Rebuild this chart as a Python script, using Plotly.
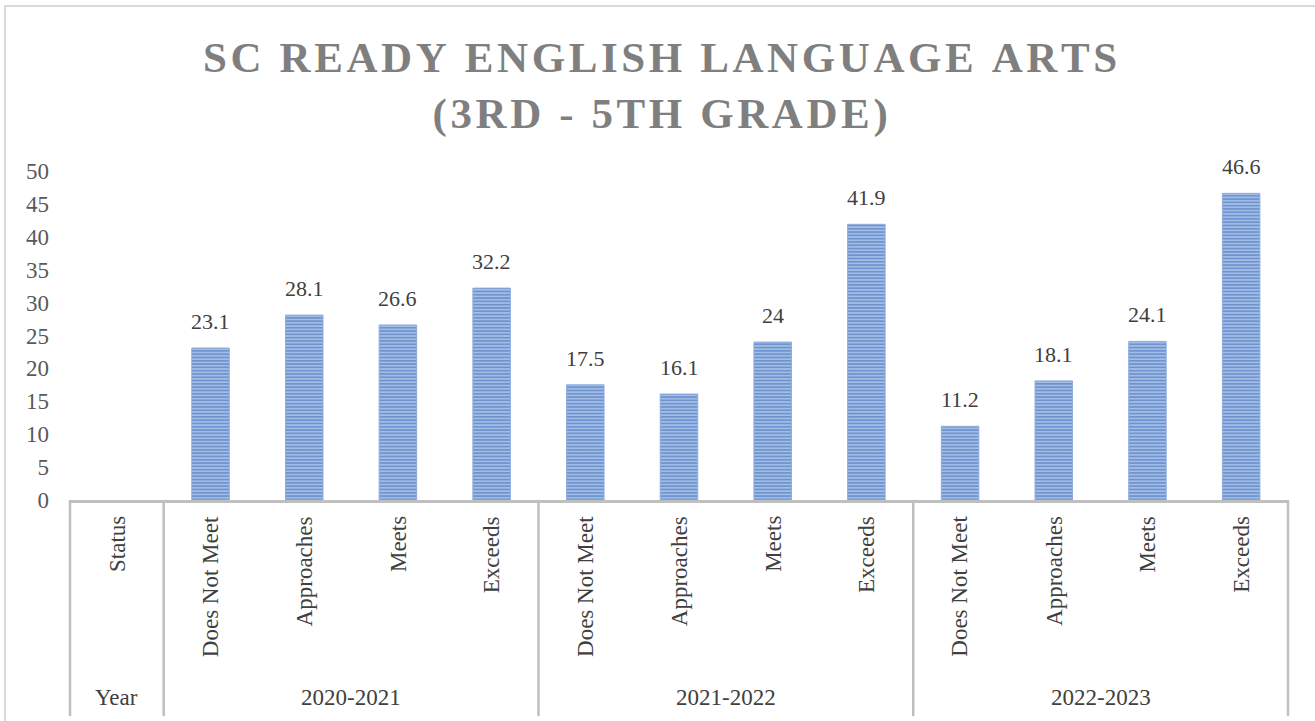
import plotly.graph_objects as go

# data
years = ['2020-2021', '2021-2022', '2022-2023']
statuses = ['Does Not Meet', 'Approaches', 'Meets', 'Exceeds']
values_2020 = [23.1, 28.1, 26.6, 32.2]
values_2021 = [17.5, 16.1, 24, 41.9]
values_2022 = [11.2, 18.1, 24.1, 46.6]
y_ticks = [0, 5, 10, 15, 20, 25, 30, 35, 40, 45, 50]

all_values = [values_2020, values_2021, values_2022]

# one slot per category, first slot is the "Status / Year" header column
cats = ['Status'] + [f'{y}|{s}' for y in years for s in statuses]
vals = [None] + [v for vs in all_values for v in vs]

font = 'Liberation Serif'
n = len(cats)

fig = go.Figure()
fig.add_trace(go.Bar(
    x=cats, y=vals, width=0.4,
    marker=dict(
        color='#AFC6EB',
        line=dict(color='#8FAADC', width=1),
        pattern=dict(shape='-', fgcolor='#2E62B4', bgcolor='#AFC6EB', size=3.3, solidity=0.6),
    ),
    showlegend=False,
))

annotations = []
# value labels above bars
for c, v in zip(cats, vals):
    if v is None:
        continue
    annotations.append(dict(
        x=c, y=v, xref='x', yref='y', text=str(v), showarrow=False,
        yanchor='bottom', yshift=12,
        font=dict(family=font, size=22, color='#404040'),
    ))
# rotated category labels
for i, c in enumerate(cats):
    txt = c.split('|')[-1]
    annotations.append(dict(
        x=i, y=-0.043, xref='x', yref='paper', text=txt, showarrow=False,
        textangle=-90, xanchor='center', yanchor='top',
        font=dict(family=font, size=23, color='#404040'),
    ))
# year group labels
annotations.append(dict(
    x=0, y=-0.599, xref='x', yref='paper', text='Year', showarrow=False,
    yanchor='middle', font=dict(family=font, size=23, color='#404040'),
))
for k, y in enumerate(years):
    annotations.append(dict(
        x=1 + 4 * k + 1.5, y=-0.599, xref='x', yref='paper', text=y, showarrow=False,
        yanchor='middle', font=dict(family=font, size=23, color='#404040'),
    ))

shapes = []
# group dividers below the axis
for d in [0, 1, 5, 9, 13]:
    shapes.append(dict(
        type='line', xref='paper', yref='paper', x0=d / n, x1=d / n, y0=0, y1=-0.657,
        line=dict(color='#BFBFBF', width=2.5),
    ))
# chart border
shapes.append(dict(
    type='rect', xref='paper', yref='paper', x0=-0.0534, x1=1.03, y0=-0.7, y1=1.5015,
    line=dict(color='#D9D9D9', width=2), layer='below',
))

title = 'SC READY ENGLISH LANGUAGE ARTS<br>(3RD - 5TH GRADE)'
title = '\u200a'.join(title.replace('<br>', '\n')).replace('\u200a\n\u200a', '<br>')

fig.update_layout(
    width=1315, height=721,
    margin=dict(l=70, r=27, t=171, b=221),
    paper_bgcolor='white', plot_bgcolor='white',
    title=dict(
        text=title, x=0.502, xanchor='center', y=0.9, yanchor='top',
        font=dict(family=font, size=43, color='#7F7F7F', weight='bold'),
    ),
    xaxis=dict(
        range=[-0.5, n - 0.5], showticklabels=False, ticks='',
        showline=True, linecolor='#BFBFBF', linewidth=2.5, showgrid=False, zeroline=False,
    ),
    yaxis=dict(
        range=[0, 50], tickvals=y_ticks, showgrid=False, zeroline=False, showline=False,
        ticks='', ticklabelstandoff=20,
        tickfont=dict(family=font, size=23, color='#595959'),
    ),
    annotations=annotations,
    shapes=shapes,
)

fig.write_html('out.html', config={'displayModeBar': False},
               post_script="document.body.style.margin='0';")
